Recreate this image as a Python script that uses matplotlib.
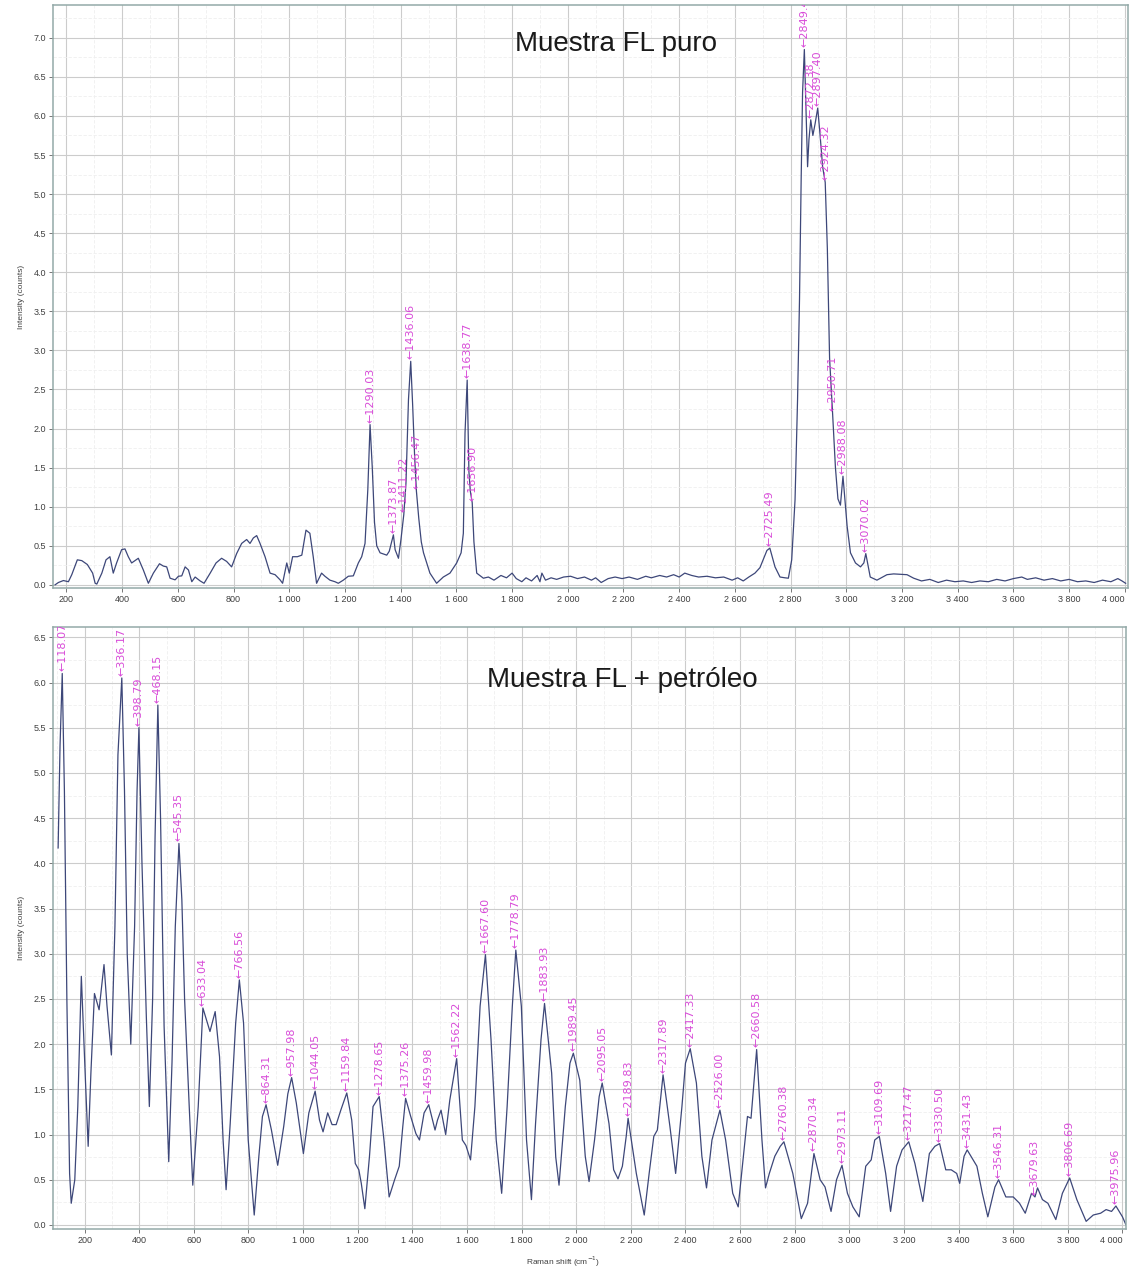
import numpy as np
import matplotlib
matplotlib.use("Agg")
import matplotlib.pyplot as plt
from matplotlib.ticker import MultipleLocator

plt.rcParams['font.family'] = ['Liberation Sans', 'DejaVu Sans']

# --- Muestra FL puro: Raman shift (cm-1) / intensity (counts) ---
fl_shift = [159, 171, 189, 207, 219, 239, 255, 275, 294, 303, 309, 327, 342, 356, 368,
            380, 398, 410, 422, 434, 458, 476, 494, 512, 534, 548, 560, 572, 590, 602,
            614, 626, 638, 650, 662, 680, 694, 716, 737, 757, 775, 793, 811, 829, 847,
            859, 871, 883, 895, 913, 931, 949, 967, 976, 991, 1000, 1012, 1029, 1045, 1060,
            1074, 1086, 1098, 1116, 1128, 1146, 1164, 1176, 1194, 1212, 1230, 1248, 1260, 1272, 1282,
            1290.03, 1298, 1306, 1314, 1326, 1350, 1359, 1373.87, 1380, 1392, 1401, 1411.22, 1419, 1428, 1436.06,
            1443, 1450, 1456.47, 1465, 1474, 1482, 1505, 1529, 1553, 1577, 1601, 1617, 1625, 1631, 1638.77,
            1645, 1650, 1656.90, 1663, 1673, 1697, 1715, 1735, 1760, 1780, 1800, 1815, 1835, 1850, 1870,
            1890, 1900, 1907, 1920, 1940, 1960, 1985, 2010, 2035, 2060, 2085, 2100, 2120, 2145, 2170,
            2195, 2220, 2250, 2280, 2300, 2330, 2355, 2380, 2400, 2420, 2445, 2470, 2500, 2530, 2560,
            2590, 2610, 2630, 2650, 2672, 2690, 2705, 2715, 2725.49, 2744, 2762, 2780, 2792, 2804, 2816,
            2825, 2832, 2838, 2843, 2849.41, 2855, 2861, 2866, 2872.38, 2880, 2888, 2897.40, 2906, 2915, 2924.32,
            2932, 2940, 2950.71, 2961, 2970, 2979, 2988.08, 3003, 3015, 3033, 3051, 3063, 3070.02, 3086, 3110,
            3146, 3170, 3218, 3242, 3270, 3300, 3330, 3360, 3390, 3420, 3450, 3480, 3510, 3540, 3570,
            3600, 3630, 3650, 3680, 3710, 3740, 3770, 3800, 3830, 3860, 3890, 3920, 3950, 3975, 3990, 4003]
fl_counts = [0.00, 0.03, 0.055, 0.04, 0.13, 0.32, 0.31, 0.26, 0.15, 0.02, 0.01, 0.15, 0.32, 0.36, 0.15,
             0.28, 0.45, 0.46, 0.36, 0.28, 0.34, 0.19, 0.02, 0.15, 0.27, 0.24, 0.23, 0.085, 0.064, 0.11,
             0.115, 0.23, 0.19, 0.04, 0.10, 0.05, 0.02, 0.15, 0.28, 0.34, 0.30, 0.23, 0.40, 0.53, 0.58,
             0.53, 0.60, 0.63, 0.53, 0.36, 0.15, 0.13, 0.064, 0.02, 0.28, 0.15, 0.36, 0.36, 0.38, 0.70,
             0.66, 0.36, 0.02, 0.15, 0.11, 0.06, 0.04, 0.02, 0.06, 0.11, 0.115, 0.28, 0.36, 0.53, 1.22,
             2.05, 1.50, 0.80, 0.50, 0.41, 0.38, 0.43, 0.64, 0.45, 0.34, 0.58, 0.90, 1.30, 2.37, 2.86,
             2.30, 1.65, 1.20, 0.85, 0.55, 0.41, 0.15, 0.02, 0.10, 0.15, 0.28, 0.41, 0.66, 1.94, 2.62,
             1.45, 1.20, 1.05, 0.55, 0.15, 0.085, 0.10, 0.06, 0.12, 0.09, 0.15, 0.08, 0.04, 0.09, 0.05,
             0.12, 0.04, 0.15, 0.06, 0.09, 0.07, 0.10, 0.11, 0.08, 0.10, 0.06, 0.09, 0.03, 0.08, 0.10,
             0.08, 0.10, 0.07, 0.11, 0.09, 0.12, 0.10, 0.13, 0.10, 0.15, 0.12, 0.10, 0.11, 0.09, 0.10,
             0.06, 0.09, 0.05, 0.10, 0.15, 0.22, 0.35, 0.44, 0.47, 0.23, 0.10, 0.09, 0.085, 0.32, 1.09,
             2.37, 3.65, 5.20, 6.30, 6.85, 6.15, 5.35, 5.70, 5.95, 5.75, 5.90, 6.10, 5.75, 5.35, 5.15,
             4.30, 2.90, 2.20, 1.50, 1.10, 1.02, 1.39, 0.75, 0.41, 0.28, 0.23, 0.28, 0.40, 0.10, 0.06,
             0.13, 0.14, 0.13, 0.085, 0.05, 0.07, 0.03, 0.06, 0.04, 0.05, 0.03, 0.05, 0.04, 0.07, 0.05,
             0.08, 0.10, 0.07, 0.09, 0.06, 0.08, 0.05, 0.07, 0.04, 0.05, 0.03, 0.06, 0.04, 0.08, 0.05, 0.02]
fl_peaks = [1290.03, 1373.87, 1411.22, 1436.06, 1456.47, 1638.77, 1656.90, 2725.49,
            2849.41, 2872.38, 2897.40, 2924.32, 2950.71, 2988.08, 3070.02]

# --- Muestra FL + petróleo ---
mix_shift = [103, 110, 118.07, 126, 135, 145, 151, 164, 175, 188, 203, 213, 223, 236, 253,
             271, 282, 298, 311, 322, 336.17, 346, 356, 369, 383, 392, 398.79, 410, 426, 437,
             449, 458, 468.15, 478, 491, 508, 520, 532, 545.35, 556, 566, 583, 596, 616, 633.04,
             659, 678, 694, 707, 718, 733, 753, 766.56, 782, 799, 821, 838, 851, 864.31, 884,
             907, 929, 944, 957.98, 975, 1001, 1021, 1044.05, 1060, 1073, 1090, 1106, 1121, 1138, 1159.84,
             1178, 1191, 1204, 1213, 1226, 1243, 1256, 1278.65, 1296, 1315, 1335, 1352, 1365, 1375.26, 1394,
             1413, 1426, 1443, 1459.98, 1483, 1492, 1505, 1522, 1537, 1562.22, 1583, 1596, 1613, 1629, 1648,
             1667.60, 1688, 1707, 1727, 1747, 1766, 1778.79, 1799, 1818, 1836, 1851, 1871, 1883.93, 1910, 1925,
             1937, 1960, 1977, 1989.45, 2013, 2033, 2047, 2067, 2084, 2095.05, 2120, 2137, 2153, 2169, 2183,
             2189.83, 2220, 2249, 2267, 2284, 2297, 2317.89, 2343, 2364, 2387, 2400, 2417.33, 2440, 2460, 2477,
             2497, 2526.00, 2547, 2573, 2593, 2613, 2627, 2640, 2660.58, 2680, 2693, 2707, 2727, 2747, 2760.38,
             2793, 2824, 2847, 2870.34, 2893, 2911, 2933, 2953, 2973.11, 2993, 3013, 3036, 3060, 3080, 3093,
             3109.69, 3133, 3151, 3173, 3193, 3217.47, 3240, 3269, 3293, 3313, 3330.50, 3353, 3373, 3393, 3404,
             3420, 3431.43, 3467, 3487, 3507, 3533, 3546.31, 3573, 3600, 3623, 3644, 3667, 3679.63, 3689, 3707,
             3727, 3756, 3780, 3806.69, 3833, 3867, 3893, 3920, 3940, 3960, 3975.96, 4000, 4013]
mix_counts = [4.17, 5.30, 6.10, 4.80, 2.50, 0.57, 0.24, 0.50, 1.31, 2.75, 1.60, 0.87, 1.68, 2.56, 2.38,
              2.88, 2.42, 1.88, 3.30, 5.20, 6.05, 4.80, 3.00, 2.00, 3.30, 4.80, 5.50, 4.00, 2.30, 1.31,
              2.50, 4.30, 5.75, 4.50, 2.20, 0.70, 1.80, 3.30, 4.22, 3.60, 2.50, 1.31, 0.44, 1.31, 2.40,
              2.14, 2.36, 1.86, 0.94, 0.39, 1.12, 2.23, 2.71, 2.23, 0.94, 0.11, 0.76, 1.20, 1.33, 1.05,
              0.66, 1.09, 1.45, 1.63, 1.35, 0.79, 1.24, 1.48, 1.16, 1.03, 1.24, 1.11, 1.11, 1.27, 1.46,
              1.16, 0.68, 0.61, 0.46, 0.18, 0.76, 1.31, 1.42, 0.94, 0.31, 0.50, 0.65, 1.09, 1.40, 1.20,
              1.01, 0.94, 1.24, 1.33, 1.05, 1.16, 1.27, 1.00, 1.38, 1.84, 0.94, 0.88, 0.72, 1.31, 2.42,
              2.99, 2.05, 0.94, 0.35, 1.31, 2.42, 3.04, 2.42, 0.94, 0.28, 1.12, 2.05, 2.45, 1.68, 0.75,
              0.44, 1.31, 1.79, 1.90, 1.60, 0.76, 0.48, 0.94, 1.42, 1.57, 1.12, 0.61, 0.51, 0.65, 0.98,
              1.18, 0.57, 0.11, 0.57, 0.98, 1.05, 1.66, 1.09, 0.57, 1.31, 1.79, 1.95, 1.57, 0.76, 0.41,
              0.94, 1.27, 0.94, 0.35, 0.20, 0.79, 1.20, 1.18, 1.94, 0.94, 0.41, 0.57, 0.76, 0.87, 0.92,
              0.57, 0.07, 0.24, 0.79, 0.50, 0.42, 0.15, 0.50, 0.66, 0.35, 0.20, 0.09, 0.65, 0.72, 0.94,
              0.98, 0.57, 0.15, 0.65, 0.83, 0.92, 0.68, 0.26, 0.79, 0.87, 0.90, 0.61, 0.61, 0.57, 0.46,
              0.76, 0.83, 0.65, 0.35, 0.09, 0.42, 0.50, 0.31, 0.31, 0.24, 0.13, 0.35, 0.31, 0.41, 0.28,
              0.24, 0.06, 0.35, 0.52, 0.28, 0.04, 0.11, 0.13, 0.17, 0.15, 0.21, 0.09, 0.00]
mix_peaks = [118.07, 336.17, 398.79, 468.15, 545.35, 633.04, 766.56, 864.31, 957.98, 1044.05,
             1159.84, 1278.65, 1375.26, 1459.98, 1562.22, 1667.60, 1778.79, 1883.93, 1989.45, 2095.05,
             2189.83, 2317.89, 2417.33, 2526.00, 2660.58, 2760.38, 2870.34, 2973.11, 3109.69, 3217.47,
             3330.50, 3431.43, 3546.31, 3679.63, 3806.69, 3975.96]

x_ticks = np.arange(200, 4001, 200)
line_color = '#3d4779'
peak_color = '#d84bd8'
grid_color = '#cccccc'


def setup(ax, xlim, ylim, ytop):
    ax.set_xlim(*xlim)
    ax.set_ylim(*ylim)
    ax.set_xticks(x_ticks, labels=[f"{t:,}".replace(",", " ") for t in x_ticks])
    ax.get_xticklabels()[-1].set_ha('right')
    ax.set_yticks(np.arange(0, ytop + 0.01, 0.5),
                  labels=[f"{v:.1f}" for v in np.arange(0, ytop + 0.01, 0.5)])
    ax.xaxis.set_minor_locator(MultipleLocator(100))
    ax.yaxis.set_minor_locator(MultipleLocator(0.25))
    ax.grid(which='major', color=grid_color, lw=0.8)
    ax.grid(which='minor', color='#efefef', lw=0.6, ls=(0, (4, 2)))
    ax.set_axisbelow(True)
    ax.tick_params(which='major', length=3, width=0.7, color='#777777',
                   labelsize=6.5, labelcolor='#404040', pad=2)
    ax.tick_params(which='minor', length=0)
    for s in ax.spines.values():
        s.set_color('#93aaa8')
        s.set_linewidth(1.1)
    ax.set_ylabel('Intensity (counts)', fontsize=6, color='#404040', labelpad=6)


def mark_peaks(ax, xs, ys, peaks):
    # vertical magenta tag with a small arrow pointing down onto each peak
    for p in peaks:
        h = np.interp(p, xs, ys)
        ax.annotate(f"\u2190{p:.2f}", xy=(p, h), xytext=(0, 1.5), textcoords='offset points',
                    rotation=90, ha='center', va='bottom', fontsize=8, color=peak_color,
                    family=['DejaVu Sans'], clip_on=True, annotation_clip=True)


fig = plt.figure(figsize=(11.31, 12.68), dpi=100)

ax1 = fig.add_axes([0.0469, 0.5363, 0.9505, 0.4598])
setup(ax1, (151.8, 4011.7), (-0.04, 7.42), 7.0)
ax1.plot(fl_shift, fl_counts, color=line_color, lw=0.9)
mark_peaks(ax1, fl_shift, fl_counts, fl_peaks)
fig.text(616 / 1131, 1 - 44 / 1268, 'Muestra FL puro', fontsize=20,
         ha='center', va='center', color='#1a1a1a')

ax2 = fig.add_axes([0.0469, 0.0308, 0.9487, 0.4748])
setup(ax2, (84.4, 4013), (-0.044, 6.615), 6.5)
ax2.plot(mix_shift, mix_counts, color=line_color, lw=0.9)
mark_peaks(ax2, mix_shift, mix_counts, mix_peaks)
ax2.set_xlabel('Raman shift (cm$^{-1}$)', fontsize=6, color='#404040')
ax2.xaxis.set_label_coords(0.475, -0.043)
fig.text(622 / 1131, 1 - 680 / 1268, 'Muestra FL + petróleo', fontsize=20,
         ha='center', va='center', color='#1a1a1a')

fig.savefig('out.png', dpi=100)
